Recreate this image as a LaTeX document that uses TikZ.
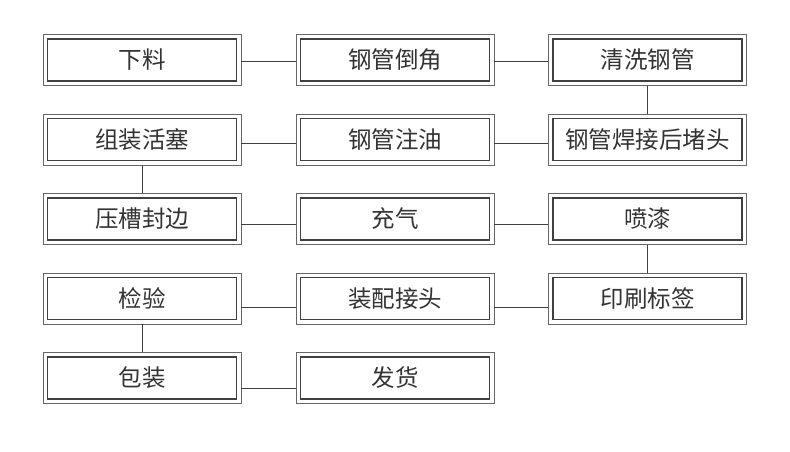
\documentclass[tikz,border=0pt]{standalone}
\usepackage{fontspec}
\newfontfamily\cjk{Noto Sans CJK SC}
\begin{document}
\begin{tikzpicture}[x=1pt,y=-1pt,
  stepbox/.style={draw=black!60, line width=0.8pt, minimum width=198pt, minimum height=51pt,
    inner sep=0pt, font=\cjk\fontsize{23.5}{28}\selectfont, text=black!80,
    path picture={\draw[black!75, line width=1.1pt]
      ([shift={(4.5pt,4.5pt)}]path picture bounding box.south west) rectangle
      ([shift={(-4.5pt,-4.5pt)}]path picture bounding box.north east);}},
  conn/.style={draw=black!75, line width=0.8pt}]
\useasboundingbox (0,0) rectangle (790,452);
\def\xa{142}\def\xb{395}\def\xc{647.5}
\node[stepbox] (a1) at (\xa,60) {下料};
\node[stepbox] (b1) at (\xb,60) {钢管倒角};
\node[stepbox] (c1) at (\xc,60) {清洗钢管};
\node[stepbox] (a2) at (\xa,139.5) {组装活塞};
\node[stepbox] (b2) at (\xb,139.5) {钢管注油};
\node[stepbox] (c2) at (\xc,139.5) {钢管焊接后堵头};
\node[stepbox] (a3) at (\xa,219) {压槽封边};
\node[stepbox] (b3) at (\xb,219) {充气};
\node[stepbox] (c3) at (\xc,219) {喷漆};
\node[stepbox] (a4) at (\xa,298.5) {检验};
\node[stepbox] (b4) at (\xb,298.5) {装配接头};
\node[stepbox] (c4) at (\xc,298.5) {印刷标签};
\node[stepbox] (a5) at (\xa,378) {包装};
\node[stepbox] (b5) at (\xb,378) {发货};
% row connectors
\draw[conn] ([yshift=-1pt]a1.east) -- ([yshift=-1pt]b1.west);
\draw[conn] ([yshift=-1pt]b1.east) -- ([yshift=-1pt]c1.west);
\draw[conn] ([yshift=-3.5pt]a2.east) -- ([yshift=-3.5pt]b2.west);
\draw[conn] ([yshift=-3.5pt]b2.east) -- ([yshift=-3.5pt]c2.west);
\draw[conn] ([yshift=-5pt]a3.east) -- ([yshift=-5pt]b3.west);
\draw[conn] ([yshift=-5pt]b3.east) -- ([yshift=-5pt]c3.west);
\draw[conn] ([yshift=-8.5pt]a4.east) -- ([yshift=-8.5pt]b4.west);
\draw[conn] ([yshift=-8.5pt]b4.east) -- ([yshift=-8.5pt]c4.west);
\draw[conn] ([yshift=-10pt]a5.east) -- ([yshift=-10pt]b5.west);
% vertical connectors
\draw[conn] (c1.south) -- (c2.north);
\draw[conn] (a2.south) -- (a3.north);
\draw[conn] (c3.south) -- (c4.north);
\draw[conn] (a4.south) -- (a5.north);
\end{tikzpicture}
\end{document}
